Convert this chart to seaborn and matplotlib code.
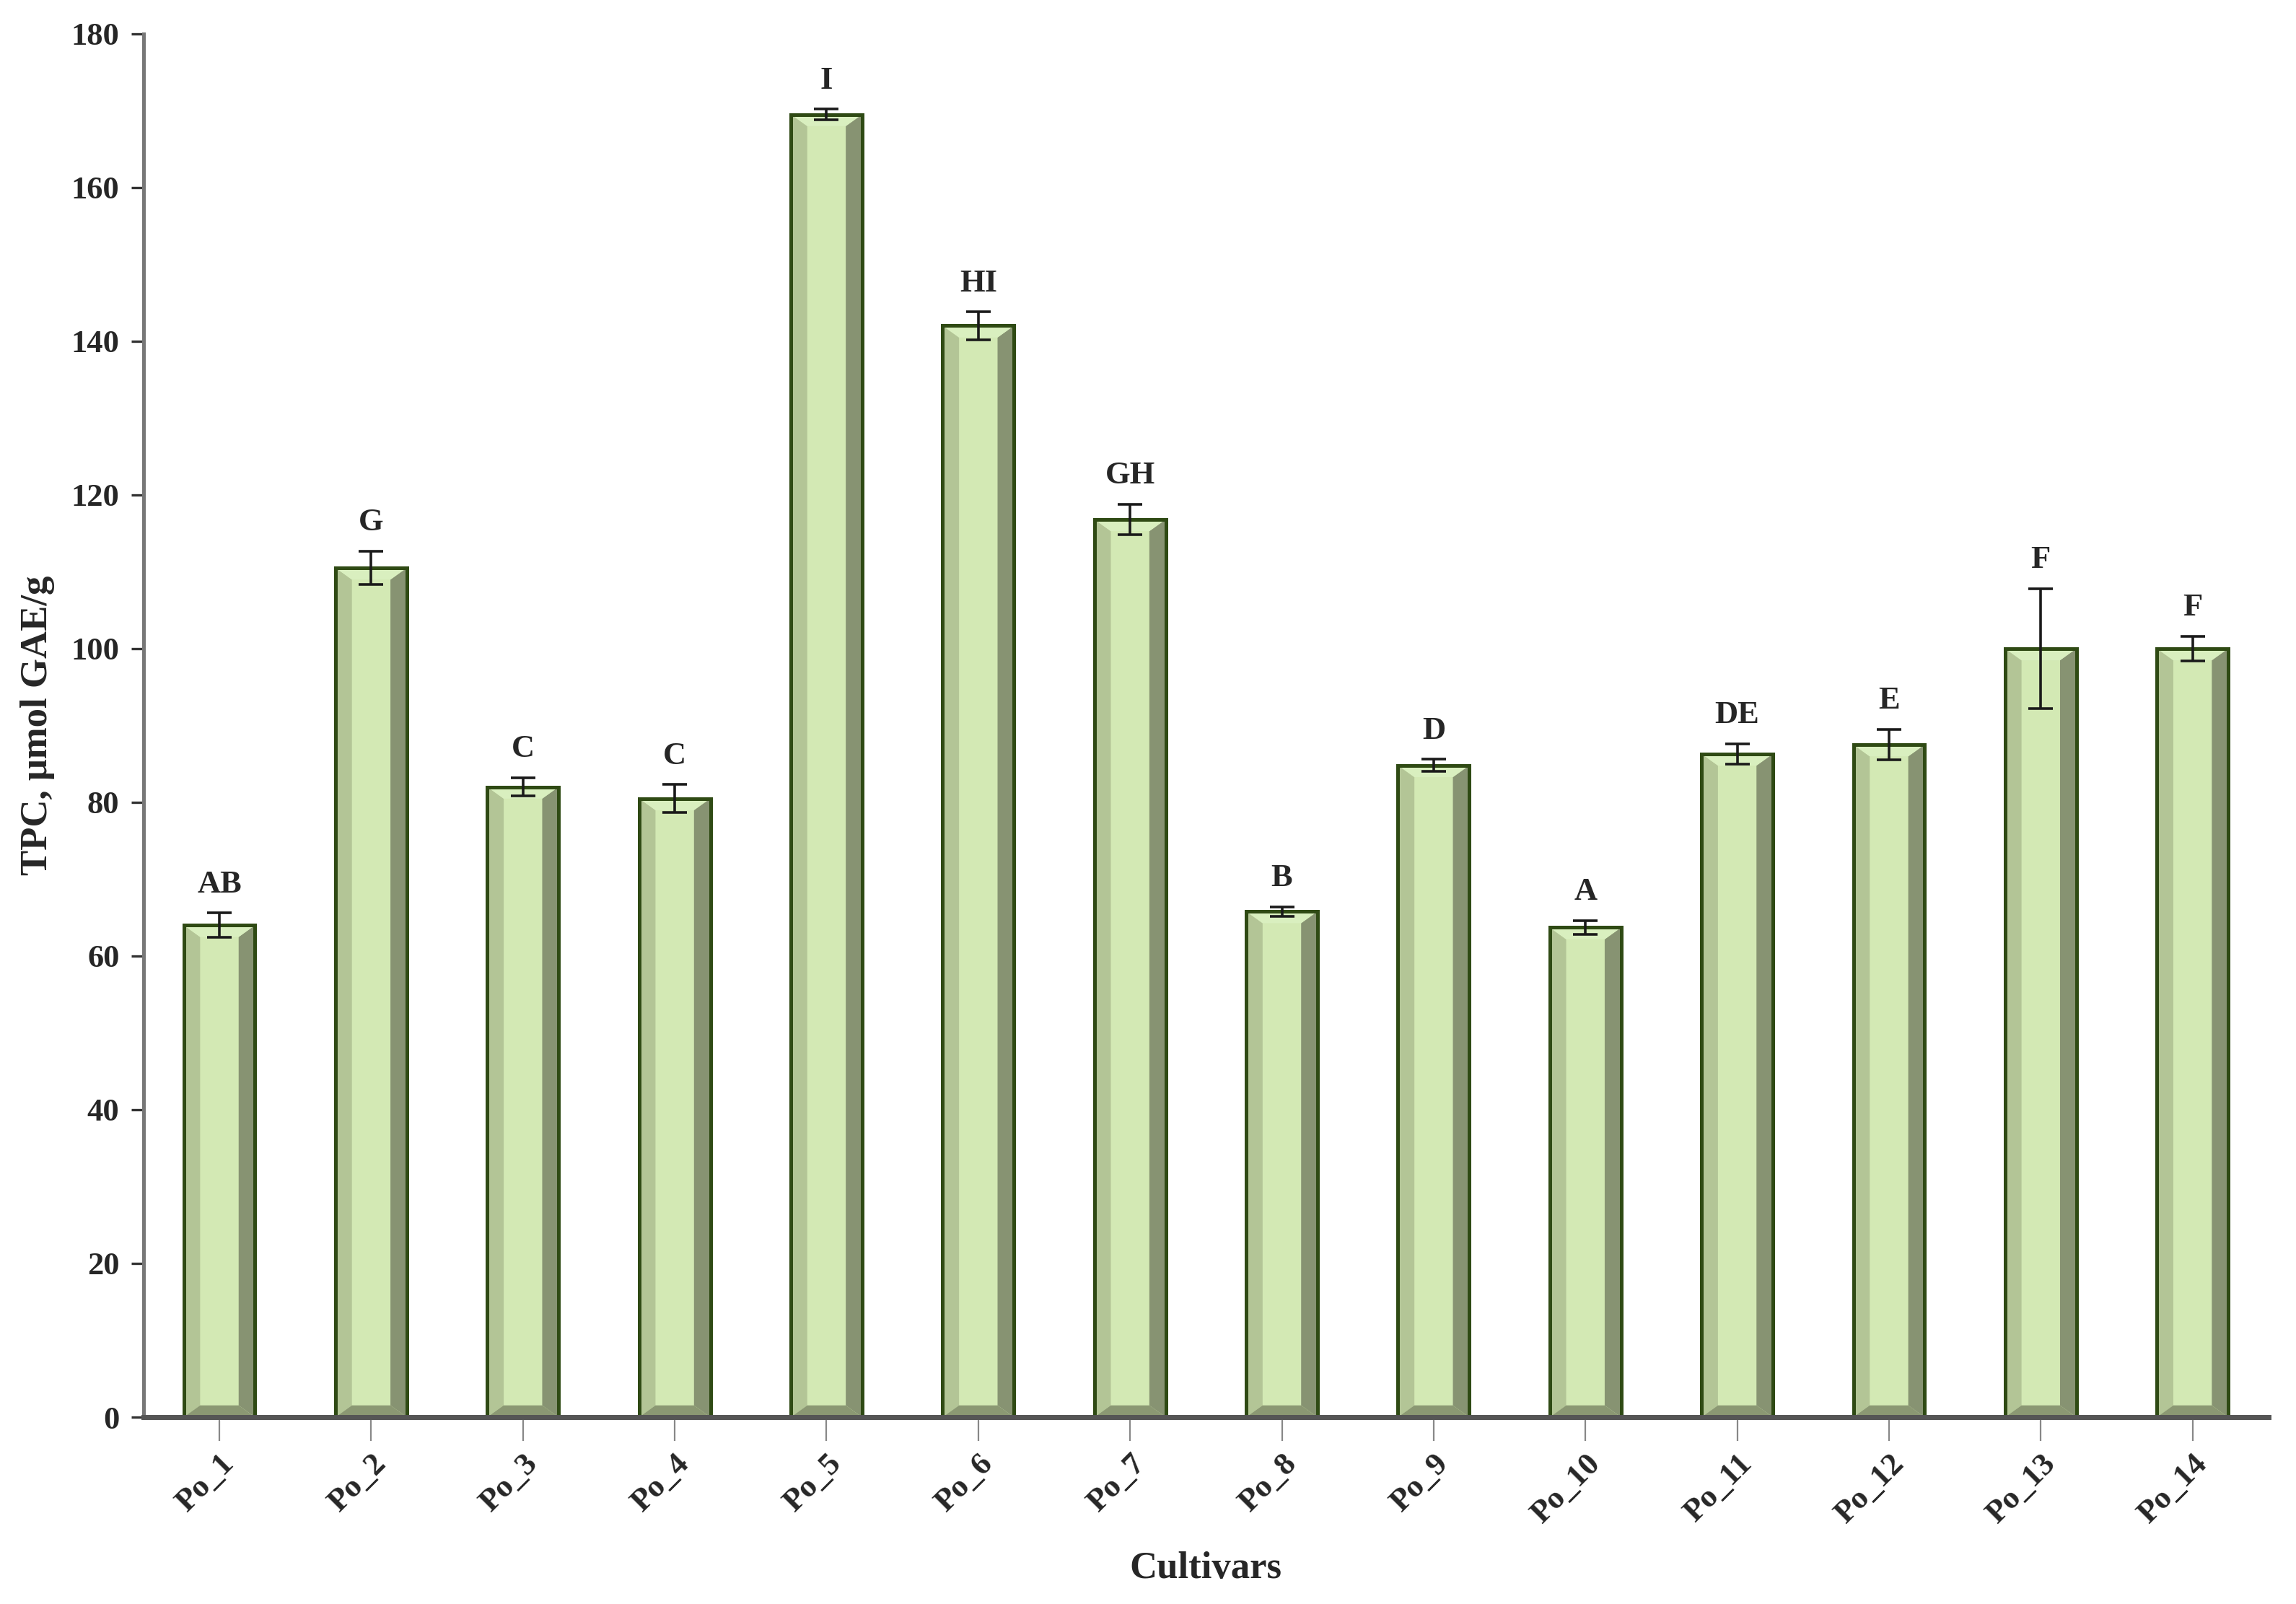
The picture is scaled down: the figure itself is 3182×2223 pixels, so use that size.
import numpy as np
import pandas as pd
import seaborn as sns
import matplotlib.pyplot as plt
from matplotlib.patches import Polygon

cultivars = ["Po_1", "Po_2", "Po_3", "Po_4", "Po_5", "Po_6", "Po_7",
             "Po_8", "Po_9", "Po_10", "Po_11", "Po_12", "Po_13", "Po_14"]
tpc = [64.0, 110.5, 82.0, 80.5, 169.5, 142.0, 116.8,
       65.8, 84.8, 63.7, 86.3, 87.5, 100.0, 100.0]
tpc_err = [1.6, 2.2, 1.2, 1.8, 0.7, 1.8, 2.0,
           0.6, 0.8, 0.9, 1.3, 2.0, 7.8, 1.6]
letters = ["AB", "G", "C", "C", "I", "HI", "GH",
           "B", "D", "A", "DE", "E", "F", "F"]

sns.set_style("white")
plt.rcParams['font.family'] = ['Liberation Serif', 'DejaVu Serif']
plt.rcParams['font.weight'] = 'bold'

df = pd.DataFrame({"Cultivar": cultivars, "TPC": tpc})

fig = plt.figure(figsize=(15.91, 11.115), dpi=200)
ax = fig.add_axes([0.0625, 0.1165, 0.9255, 0.8625])

sns.barplot(data=df, x="Cultivar", y="TPC", color="#d3e9b4",
            saturation=1, width=0.47, edgecolor="#2f4a14", linewidth=1.8,
            ax=ax)

# bevel effect on every bar, built from the bar patch itself
dy = 0.0085 * 180
for p in list(ax.patches):
    x0, w, h = p.get_x(), p.get_width(), p.get_height()
    x1 = x0 + w
    dx = 0.23 * w
    faces = [
        ([(x0, 0), (x0 + dx, dy), (x0 + dx, h - dy), (x0, h)], "#b3c596"),
        ([(x1, 0), (x1 - dx, dy), (x1 - dx, h - dy), (x1, h)], "#879372"),
        ([(x0, 0), (x1, 0), (x1 - dx, dy), (x0 + dx, dy)], "#8b9873"),
        ([(x0, h), (x1, h), (x1 - dx, h - dy), (x0 + dx, h - dy)], "#d9efbf"),
    ]
    for pts, c in faces:
        ax.add_patch(Polygon(pts, closed=True, facecolor=c,
                             edgecolor="none", zorder=p.get_zorder() + 0.1))
    ax.add_patch(Polygon([(x0, 0), (x1, 0), (x1, h), (x0, h)], closed=True,
                         facecolor="none", edgecolor="#2f4a14", linewidth=1.8,
                         zorder=p.get_zorder() + 0.2))

xs = np.arange(len(cultivars))
ax.errorbar(xs, tpc, yerr=tpc_err, fmt="none", ecolor="#1a1a1a",
            elinewidth=1.3, capsize=6, capthick=1.3, zorder=5)

for x, v, e, lab in zip(xs, tpc, tpc_err, letters):
    ax.annotate(lab, (x, v + e), xytext=(0, 7), textcoords="offset points",
                ha="center", va="bottom", fontsize=16, fontweight="bold")

ax.set_xlim(-0.5, 13.5)
ax.set_ylim(0, 180)
ax.set_yticks(np.arange(0, 181, 20))
ax.tick_params(axis="y", labelsize=16, length=6, width=1.2, color="#333333",
               left=True, pad=6)
ax.tick_params(axis="x", labelsize=16, length=12, width=0.8, color="#888888",
               bottom=True, pad=4)
plt.setp(ax.get_xticklabels(), rotation=45, ha="right",
         rotation_mode="anchor", fontweight="bold")
plt.setp(ax.get_yticklabels(), fontweight="bold")

sns.despine(ax=ax)
ax.spines["left"].set_color("#777777")
ax.spines["left"].set_linewidth(1.8)
ax.spines["bottom"].set_color("#555555")
ax.spines["bottom"].set_linewidth(2.5)

ax.set_xlabel("Cultivars", fontsize=19, fontweight="bold", labelpad=11)
ax.set_ylabel("TPC, \u03bcmol GAE/g", fontsize=19, fontweight="bold",
              labelpad=8)

fig.savefig("out.png", dpi=200)
